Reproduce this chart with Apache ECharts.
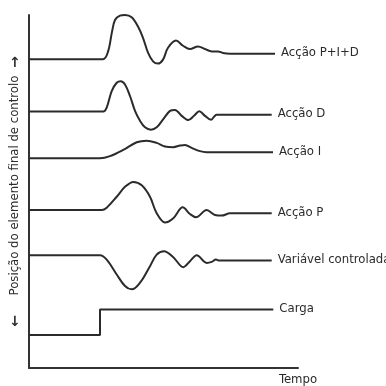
<!DOCTYPE html>
<html>
<head>
<meta charset="utf-8">
<script src="https://cdn.jsdelivr.net/npm/echarts@6/dist/echarts.min.js"></script>
<style>
  html, body { margin: 0; padding: 0; background: #fff; }
  #chart { width: 386px; height: 386px; }
</style>
</head>
<body>
<div id="chart"></div>
<script>
// time on x, signal level on y (arbitrary units)
const seriesNames = ['Acção P+I+D', 'Acção D', 'Acção I', 'Acção P', 'Variável controlada', 'Carga']

const pidTime  = [0, 74, 79, 83, 86, 91, 96, 102.7, 109, 114, 119, 124, 129, 134, 139, 147, 154, 161, 169, 176, 182.7, 189, 194, 201, 246]
const pidLevel = [311.5, 311.5, 319, 339, 351, 355.3, 356, 353.7, 344.3, 333, 318, 309.3, 307, 311, 323, 330.3, 325, 321.7, 324.3, 321.7, 319.3, 319.3, 317.7, 317, 317]

const dTime  = [0, 74.3, 77.7, 82.7, 87.7, 91.7, 96, 101, 106, 111, 116, 122, 127.7, 134.3, 141, 146, 152.7, 159.3, 165, 170.3, 176, 182, 185.3, 187.7, 242.7]
const dLevel = [258.7, 258.7, 262.7, 279.3, 287.7, 289.3, 286, 274.3, 259.3, 249.3, 242.7, 240.3, 242.7, 251, 259.3, 260.3, 254.3, 250, 254.3, 259, 254.3, 250.3, 253.7, 255.3, 255.3]

const iTime  = [0, 71, 81, 94.3, 107.7, 117.7, 127.7, 136, 144.3, 151, 156, 162.7, 171, 177.7, 244]
const iLevel = [211.5, 211.5, 213.7, 220, 227.7, 229.3, 227, 223.3, 222.7, 224.3, 225, 222, 218.7, 217.7, 217.7]

const pTime  = [0, 72.7, 77.7, 87.7, 96, 104.3, 112.7, 121, 127.7, 136, 144.3, 153.7, 161, 167, 177.7, 186, 192.7, 201, 242.7]
const pLevel = [159.3, 159.3, 161.7, 172.7, 182.7, 187.7, 184.3, 172.7, 156, 146.7, 151, 162, 155.3, 152, 159.3, 154.3, 153.7, 156, 156]

const varTime  = [0, 71, 77.7, 87.7, 96, 102.7, 111, 121, 127.7, 135, 144.3, 154.3, 161, 167.7, 177.7, 182.7, 187, 190.3, 242.7]
const varLevel = [113.7, 113.7, 109.3, 94.3, 82.7, 79.3, 86, 102.7, 114.3, 117.7, 111.7, 101.7, 107.7, 113.7, 106, 107, 109.3, 108.3, 108.3]

const loadTime  = [0, 71, 71, 244.3]
const loadLevel = [33.3, 33.3, 59, 59]

const times  = [pidTime, dTime, iTime, pTime, varTime, loadTime]
const levels = [pidLevel, dLevel, iLevel, pLevel, varLevel, loadLevel]

const ink = '#2b2b2b'
const labelFont = "'Liberation Sans Narrow', 'DejaVu Sans Condensed', sans-serif"

const chart = echarts.init(document.getElementById('chart'))

const series = seriesNames.map((name, k) => ({
  name,
  type: 'line',
  data: times[k].map((t, j) => [t, levels[k][j]]),
  smooth: k < 5 ? 0.35 : false,
  showSymbol: false,
  clip: false,
  lineStyle: { color: ink, width: 2 },
  endLabel: {
    show: true,
    formatter: '{a}',
    distance: 6,
    offset: [0, -1],
    color: ink,
    fontSize: 13,
    fontFamily: labelFont,
  },
}))

chart.setOption({
  animation: false,
  grid: { left: 29, right: 88, top: 15, bottom: 15 },
  xAxis: {
    type: 'value', min: 0, max: 269,
    name: 'Tempo', nameLocation: 'end', nameGap: 0,
    nameTextStyle: { align: 'center', verticalAlign: 'top', padding: [5, 0, 0, 0], color: ink, fontSize: 13, fontFamily: labelFont },
    axisLine: { show: true, onZero: false, lineStyle: { color: '#333', width: 2 } },
    axisTick: { show: false }, axisLabel: { show: false }, splitLine: { show: false },
  },
  yAxis: {
    type: 'value', min: 0, max: 356,
    name: 'Posição do elemento final de controlo', nameLocation: 'middle', nameGap: 8, nameRotate: 90,
    nameTextStyle: { color: ink, fontSize: 13, fontFamily: labelFont, padding: [0, 0, 0, 12] },
    axisLine: { show: true, onZero: false, lineStyle: { color: '#333', width: 2 } },
    axisTick: { show: false }, axisLabel: { show: false }, splitLine: { show: false },
  },
  graphic: [
    { type: 'text', left: 9, top: 56, style: { text: '↑', fill: ink, font: "bold 14px 'DejaVu Sans'" } },
    { type: 'text', left: 9, top: 315, style: { text: '↓', fill: ink, font: "bold 14px 'DejaVu Sans'" } },
  ],
  series,
})
</script>
</body>
</html>
